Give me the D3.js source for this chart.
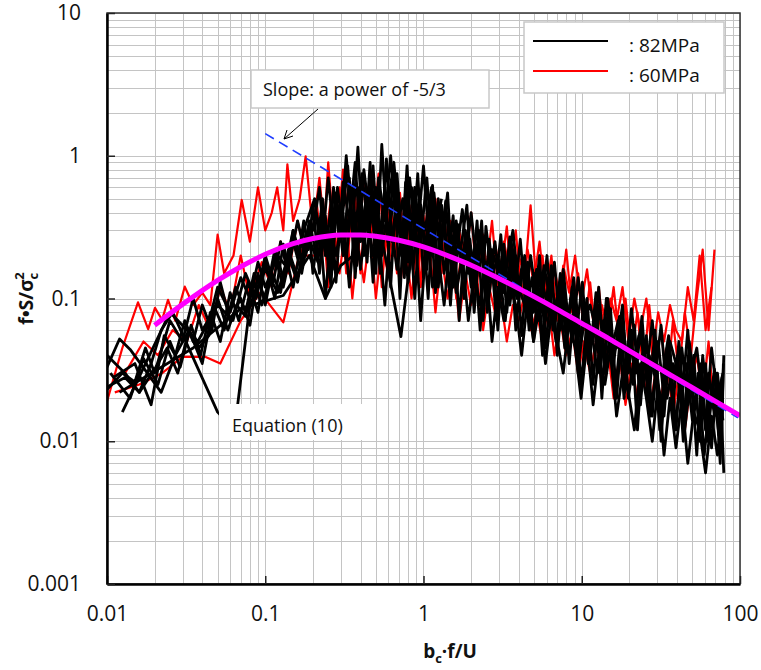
<!DOCTYPE html>
<html lang="en">
<head>
<meta charset="UTF-8">
<title>Normalized spectrum</title>
<script src="https://d3js.org/d3.v7.min.js"></script>
<style>
  body { margin: 0; background: #fff; }
  text { font-family: "Open Sans", sans-serif; fill: #111; }
  .grid line { stroke: #c4c4c4; stroke-width: 1; shape-rendering: crispEdges; }
  .axis text { font-size: 21px; }
  .axis line { stroke: #222; stroke-width: 1.5; }
</style>
</head>
<body>
<script>
// tick labels
const xMajor = [0.01, 0.1, 1, 10, 100];
const xTickLabels = ["0.01", "0.1", "1", "10", "100"];
const yMajor = [0.001, 0.01, 0.1, 1, 10];
const yTickLabels = ["0.001", "0.01", "0.1", "1", "10"];

// shared frequency grids (b·f/U) for the high frequency part of the spectra
const freqGridA = [0.20, 0.22, 0.24, 0.26, 0.28, 0.31, 0.34, 0.37, 0.40, 0.44,
  0.48, 0.52, 0.57, 0.62, 0.68, 0.74, 0.80, 0.88, 0.96, 1.05,
  1.14, 1.24, 1.35, 1.48, 1.61, 1.76, 1.92, 2.09, 2.28, 2.48,
  2.71, 2.95, 3.22, 3.51, 3.83, 4.17, 4.55, 4.96, 5.41, 5.90,
  6.43, 7.01, 7.64, 8.33, 9.08, 9.90, 10.8, 11.8, 12.8, 14.0,
  15.2, 16.6, 18.1, 19.7, 21.5, 23.5, 25.6, 27.9, 30.4, 33.1,
  36.1, 39.4, 42.9, 46.8, 51.0, 55.6, 60.6, 66.1, 72.0, 78.0];
const freqGridB = [0.21, 0.23, 0.25, 0.27, 0.295, 0.325, 0.355, 0.385, 0.42, 0.46,
  0.50, 0.545, 0.595, 0.65, 0.71, 0.77, 0.84, 0.92, 1.00, 1.10,
  1.19, 1.30, 1.42, 1.54, 1.68, 1.84, 2.00, 2.18, 2.38, 2.60,
  2.83, 3.08, 3.36, 3.67, 4.00, 4.36, 4.75, 5.18, 5.65, 6.16,
  6.72, 7.32, 7.98, 8.70, 9.49, 10.3, 11.3, 12.3, 13.4, 14.6,
  15.9, 17.3, 18.9, 20.6, 22.5, 24.5, 26.7, 29.1, 31.7, 34.6,
  37.7, 41.1, 44.8, 48.9, 53.3, 58.1, 63.3, 69.0, 75.0, 79.0];
const freqGridC = [0.205, 0.225, 0.245, 0.266, 0.286, 0.317, 0.348, 0.378, 0.409, 0.45,
  0.49, 0.532, 0.583, 0.634, 0.695, 0.757, 0.818, 0.9, 0.98, 1.07,
  1.165, 1.27, 1.38, 1.51, 1.645, 1.8, 1.96, 2.14, 2.33, 2.53,
  2.77, 3.02, 3.29, 3.59, 3.91, 4.26, 4.65, 5.07, 5.53, 6.03,
  6.57, 7.16, 7.81, 8.51, 9.28, 10.1, 11.0, 12.1, 13.1, 14.3,
  15.5, 17.0, 18.5, 20.1, 22.0, 24.0, 26.2, 28.5, 31.1, 33.8,
  36.9, 40.3, 43.8, 47.8, 52.1, 56.8, 61.9, 67.6, 73.6, 77.0];
const freqGridD = [0.215, 0.235, 0.256, 0.276, 0.301, 0.332, 0.363, 0.393, 0.429, 0.47,
  0.511, 0.557, 0.608, 0.664, 0.726, 0.787, 0.858, 0.94, 1.022, 1.124,
  1.216, 1.33, 1.45, 1.574, 1.717, 1.88, 2.044, 2.23, 2.43, 2.66,
  2.89, 3.15, 3.43, 3.75, 4.09, 4.46, 4.85, 5.29, 5.77, 6.3,
  6.87, 7.48, 8.16, 8.89, 9.7, 10.5, 11.5, 12.6, 13.7, 14.9,
  16.2, 17.7, 19.3, 21.1, 23.0, 25.0, 27.3, 29.7, 32.4, 35.4,
  38.5, 42.0, 45.8, 50.0, 54.5, 59.4, 64.7, 70.5, 76.6, 78.5];

// 82MPa runs: low frequency part (own frequencies) + high part (on a grid)
const black1LowF = [0.0125, 0.025, 0.0375, 0.05, 0.0625, 0.075, 0.0875, 0.1, 0.1125, 0.125, 0.1375, 0.15, 0.1625, 0.175, 0.1875];
const black1LowS = [0.016, 0.08, 0.05, 0.09, 0.07, 0.15, 0.1, 0.2, 0.13, 0.25, 0.16, 0.3, 0.2, 0.35, 0.22];
const black1Hi = [0.45, 0.15, 0.38, 0.12, 0.55, 0.2, 0.7, 0.14, 0.5,
  0.18, 0.85, 0.22, 0.6, 0.12, 0.75, 0.2, 0.55, 0.1, 0.45, 0.16, 0.62,
  0.12, 0.4, 0.09, 0.35, 0.15, 0.3, 0.08, 0.28, 0.1, 0.22,
  0.06, 0.24, 0.09, 0.2, 0.055, 0.18, 0.05, 0.15, 0.07, 0.17,
  0.04, 0.13, 0.035, 0.11, 0.05, 0.1, 0.025, 0.09, 0.04, 0.085,
  0.02, 0.07, 0.03, 0.065, 0.018, 0.055, 0.015, 0.05, 0.02, 0.045,
  0.012, 0.045, 0.018, 0.04, 0.01, 0.035, 0.009, 0.03, 0.014];

const black2LowF = [0.010, 0.012, 0.014, 0.018, 0.022, 0.027, 0.033, 0.04, 0.047, 0.055, 0.065, 0.075, 0.085, 0.1, 0.115, 0.13, 0.15, 0.17, 0.19];
const black2LowS = [0.033, 0.052, 0.044, 0.03, 0.022, 0.04, 0.06, 0.035, 0.09, 0.06, 0.12, 0.08, 0.15, 0.1, 0.22, 0.14, 0.3, 0.18, 0.35];
const black2Hi = [0.2, 0.5, 0.17, 0.6, 0.25, 1.0, 0.3, 1.15, 0.2,
  0.9, 0.15, 1.2, 0.25, 0.8, 0.1, 0.65, 0.2, 0.75, 0.14, 0.5, 0.11,
  0.45, 0.18, 0.38, 0.07, 0.3, 0.12, 0.35, 0.07, 0.26, 0.11,
  0.28, 0.08, 0.22, 0.1, 0.2, 0.07, 0.16, 0.04, 0.14, 0.06,
  0.15, 0.05, 0.12, 0.03, 0.1, 0.04, 0.11, 0.02, 0.08, 0.035,
  0.075, 0.025, 0.06, 0.012, 0.05, 0.022, 0.06, 0.01, 0.045, 0.018,
  0.05, 0.015, 0.035, 0.008, 0.04, 0.016, 0.032, 0.007, 0.04];

const black3LowF = [0.010, 0.013, 0.016, 0.019, 0.022, 0.026, 0.05, 0.064, 0.08, 0.1, 0.12, 0.14, 0.16, 0.18];
const black3LowS = [0.024, 0.028, 0.022, 0.035, 0.06, 0.08, 0.016, 0.012, 0.09, 0.16, 0.11, 0.2, 0.13, 0.28];
const black3Hi = [0.3, 0.6, 0.2, 0.45, 0.13, 0.65, 0.35, 0.9, 0.25,
  0.55, 0.13, 0.7, 0.35, 1.0, 0.3, 0.5, 0.18, 0.6, 0.25, 0.7, 0.2,
  0.5, 0.15, 0.3, 0.2, 0.42, 0.15, 0.22, 0.06, 0.32, 0.14,
  0.2, 0.11, 0.27, 0.06, 0.16, 0.12, 0.08, 0.2, 0.045, 0.12,
  0.08, 0.16, 0.06, 0.09, 0.025, 0.07, 0.05, 0.12, 0.03, 0.06,
  0.045, 0.09, 0.02, 0.04, 0.06, 0.03, 0.07, 0.025, 0.015, 0.05,
  0.035, 0.02, 0.06, 0.015, 0.03, 0.012, 0.045, 0.02, 0.03];

const black4LowF = [0.010, 0.0125, 0.015, 0.0175, 0.02, 0.025, 0.03, 0.035, 0.04, 0.045, 0.05, 0.06, 0.07, 0.08, 0.09, 0.1, 0.12, 0.14, 0.16, 0.18];
const black4LowS = [0.023, 0.03, 0.026, 0.045, 0.03, 0.07, 0.05, 0.1, 0.06, 0.075, 0.12, 0.08, 0.14, 0.1, 0.18, 0.12, 0.2, 0.16, 0.35, 0.2];
const black4Hi = [0.4, 0.25, 0.7, 0.3, 0.45, 0.18, 0.6, 0.22, 0.8,
  0.35, 0.6, 0.2, 0.45, 0.9, 0.28, 0.4, 0.6, 0.3, 0.85, 0.2, 0.4,
  0.25, 0.55, 0.12, 0.25, 0.18, 0.4, 0.16, 0.2, 0.13, 0.25,
  0.1, 0.17, 0.3, 0.12, 0.09, 0.2, 0.1, 0.13, 0.08, 0.18,
  0.06, 0.09, 0.05, 0.14, 0.07, 0.09, 0.06, 0.05, 0.1, 0.04,
  0.06, 0.03, 0.085, 0.035, 0.025, 0.04, 0.028, 0.065, 0.02, 0.035,
  0.025, 0.012, 0.03, 0.045, 0.02, 0.03, 0.015, 0.025, 0.006];

const black5LowF = [0.011, 0.015, 0.019, 0.023, 0.027, 0.031, 0.035, 0.04, 0.046, 0.052, 0.06, 0.07, 0.08, 0.09, 0.1, 0.115, 0.13, 0.15, 0.17, 0.19];
const black5LowS = [0.028, 0.035, 0.018, 0.055, 0.04, 0.07, 0.05, 0.09, 0.06, 0.13, 0.07, 0.1, 0.065, 0.15, 0.09, 0.2, 0.12, 0.25, 0.15, 0.3];
const black5Hi = [0.15, 0.35, 0.1, 0.3, 0.2, 0.4, 0.12, 0.35, 0.16,
  0.4, 0.2, 0.3, 0.09, 0.35, 0.16, 0.3, 0.13, 0.35, 0.07, 0.3, 0.12,
  0.2, 0.09, 0.25, 0.11, 0.2, 0.07, 0.15, 0.09, 0.18, 0.05,
  0.12, 0.07, 0.13, 0.09, 0.04, 0.1, 0.05, 0.09, 0.035, 0.08,
  0.05, 0.03, 0.07, 0.045, 0.02, 0.05, 0.018, 0.04, 0.025, 0.045,
  0.015, 0.03, 0.022, 0.012, 0.035, 0.02, 0.01, 0.025, 0.008, 0.02,
  0.009, 0.02, 0.007, 0.016, 0.012, 0.006, 0.015, 0.008, 0.018];

// sparse short 82MPa run
const black6F = [0.012, 0.035, 0.07, 0.13, 0.19, 0.24, 0.3, 0.36, 0.45, 0.55, 0.72, 0.9, 1.1, 1.3];
const black6S = [0.022, 0.045, 0.085, 0.105, 0.2, 0.1, 0.17, 0.2, 0.45, 0.25, 0.054, 0.4, 0.2, 0.5];

const black7LowF = [0.0105, 0.014, 0.017, 0.021, 0.025, 0.029, 0.034, 0.039, 0.045, 0.052, 0.06, 0.068, 0.078, 0.09, 0.1, 0.115, 0.13, 0.15, 0.175];
const black7LowS = [0.03, 0.02, 0.038, 0.025, 0.05, 0.033, 0.065, 0.04, 0.08, 0.05, 0.11, 0.07, 0.13, 0.08, 0.18, 0.1, 0.24, 0.12, 0.3];
const black7Hi = [0.5, 0.2, 0.32, 0.16, 0.6, 0.25, 0.45, 0.17, 0.75,
  0.28, 0.5, 0.15, 0.95, 0.25, 0.55, 0.14, 0.7, 0.22, 0.4, 0.1, 0.55,
  0.2, 0.48, 0.14, 0.33, 0.1, 0.26, 0.12, 0.35, 0.08, 0.2,
  0.15, 0.07, 0.25, 0.1, 0.19, 0.06, 0.15, 0.08, 0.2, 0.06,
  0.12, 0.045, 0.1, 0.06, 0.13, 0.035, 0.08, 0.03, 0.1, 0.045,
  0.07, 0.02, 0.05, 0.03, 0.075, 0.02, 0.045, 0.012, 0.04, 0.025,
  0.04, 0.01, 0.05, 0.022, 0.035, 0.01, 0.025, 0.011, 0.028];

const black8LowF = [0.01, 0.013, 0.016, 0.02, 0.024, 0.028, 0.033, 0.038, 0.044, 0.05, 0.058, 0.066, 0.075, 0.085, 0.095, 0.11, 0.125, 0.14, 0.16, 0.185];
const black8LowS = [0.04, 0.03, 0.022, 0.032, 0.045, 0.03, 0.06, 0.045, 0.055, 0.1, 0.06, 0.09, 0.075, 0.13, 0.09, 0.15, 0.11, 0.22, 0.14, 0.28];
const black8Hi = [0.18, 0.42, 0.14, 0.5, 0.3, 0.85, 0.2, 0.6, 0.3,
  0.7, 0.2, 0.4, 0.3, 0.6, 0.2, 0.85, 0.16, 0.5, 0.3, 0.6, 0.15,
  0.35, 0.12, 0.28, 0.22, 0.45, 0.1, 0.3, 0.14, 0.22, 0.07,
  0.22, 0.12, 0.1, 0.26, 0.08, 0.14, 0.07, 0.17, 0.1, 0.05,
  0.1, 0.07, 0.14, 0.04, 0.08, 0.06, 0.03, 0.07, 0.05, 0.02,
  0.06, 0.04, 0.025, 0.055, 0.04, 0.015, 0.035, 0.03, 0.055, 0.012,
  0.025, 0.035, 0.014, 0.03, 0.008, 0.02, 0.03, 0.01, 0.035];

// 60MPa runs
const red1LowF = [0.01, 0.0125, 0.0157, 0.0182, 0.0201, 0.0223, 0.0243, 0.027, 0.031, 0.035, 0.04, 0.045, 0.05, 0.055, 0.063, 0.071, 0.08, 0.09, 0.1, 0.11, 0.119, 0.13, 0.138, 0.15, 0.165, 0.18, 0.195];
const red1LowS = [0.019, 0.045, 0.094, 0.061, 0.086, 0.071, 0.098, 0.07, 0.121, 0.09, 0.11, 0.09, 0.28, 0.15, 0.2, 0.49, 0.25, 0.6, 0.3, 0.4, 0.6, 0.3, 0.87, 0.35, 0.5, 0.99, 0.4];
const red1Hi = [0.5, 0.2, 0.9, 0.3, 0.6, 0.15, 0.45, 0.2, 0.7,
  0.25, 0.5, 0.12, 0.4, 0.2, 0.55, 0.17, 0.45, 0.14, 0.38, 0.2, 0.5,
  0.15, 0.32, 0.12, 0.3, 0.18, 0.4, 0.13, 0.28, 0.1, 0.24,
  0.15, 0.32, 0.1, 0.2, 0.14, 0.45, 0.12, 0.2, 0.08, 0.16,
  0.1, 0.22, 0.08, 0.15, 0.06, 0.13, 0.05, 0.09, 0.06, 0.12,
  0.05, 0.1, 0.04, 0.08, 0.03, 0.09, 0.035, 0.06, 0.025, 0.07,
  0.03, 0.08, 0.04, 0.1, 0.22, 0.06, 0.22];

const red2LowF = [0.0112, 0.016, 0.0223, 0.03, 0.042, 0.052, 0.07, 0.093, 0.13, 0.16, 0.19];
const red2LowS = [0.022, 0.025, 0.03, 0.039, 0.039, 0.035, 0.07, 0.11, 0.068, 0.18, 0.3];
const red2Hi = [0.3, 0.7, 0.25, 0.5, 0.2, 0.8, 0.3, 0.55, 0.15,
  0.6, 0.3, 0.75, 0.2, 0.5, 0.15, 0.35, 0.18, 0.55, 0.12, 0.4, 0.25,
  0.45, 0.2, 0.35, 0.1, 0.25, 0.22, 0.1, 0.3, 0.15, 0.35,
  0.12, 0.25, 0.16, 0.3, 0.1, 0.22, 0.13, 0.25, 0.1, 0.2,
  0.07, 0.17, 0.11, 0.2, 0.09, 0.16, 0.07, 0.12, 0.05, 0.1,
  0.07, 0.12, 0.05, 0.1, 0.06, 0.1, 0.04, 0.08, 0.05, 0.09,
  0.06, 0.05, 0.12, 0.07, 0.2, 0.06, 0.12];

const red3LowF = [0.013, 0.017, 0.021, 0.026, 0.032, 0.038, 0.045, 0.052, 0.06, 0.07, 0.08, 0.095, 0.11, 0.125, 0.14, 0.16, 0.18];
const red3LowS = [0.03, 0.05, 0.04, 0.06, 0.05, 0.09, 0.06, 0.12, 0.08, 0.2, 0.1, 0.18, 0.12, 0.25, 0.15, 0.35, 0.2];
const red3Hi = [0.2, 0.4, 0.12, 0.3, 0.15, 0.35, 0.1, 0.25, 0.13,
  0.3, 0.1, 0.25, 0.15, 0.35, 0.12, 0.25, 0.1, 0.3, 0.15, 0.22, 0.08,
  0.2, 0.1, 0.18, 0.07, 0.15, 0.09, 0.14, 0.06, 0.12, 0.08,
  0.1, 0.05, 0.09, 0.07, 0.11, 0.06, 0.08, 0.05, 0.09, 0.04,
  0.07, 0.04, 0.06, 0.03, 0.05, 0.03, 0.05, 0.025, 0.045, 0.02,
  0.04, 0.018, 0.035, 0.02, 0.03, 0.015, 0.03, 0.02, 0.04, 0.015,
  0.03, 0.012, 0.025, 0.04, 0.02, 0.05, 0.015];

// Equation (10) curve
const eqF = [0.02, 0.03, 0.05, 0.07, 0.1, 0.15, 0.2, 0.3, 0.4, 0.5, 0.7, 1, 1.5, 2, 3, 5, 7, 10, 15, 20, 30, 50, 70, 100];
const eqS = [0.065, 0.091, 0.134, 0.167, 0.204, 0.242, 0.263, 0.279, 0.279, 0.273, 0.256, 0.230, 0.195, 0.171, 0.138, 0.103, 0.084, 0.067, 0.052, 0.043, 0.033, 0.0237, 0.019, 0.0151];

// -5/3 slope reference line
const slopeF = [0.1, 97];
const slopeS = [1.43, 0.0146];

// Setting dimensions and margins
const width = 761;
const height = 670;
const margin = { top: 13, right: 21, bottom: 86, left: 107 };

const x = d3.scaleLog()
  .domain([0.01, 100])
  .range([margin.left, width - margin.right]);

const y = d3.scaleLog()
  .domain([0.001, 10])
  .range([height - margin.bottom, margin.top]);

const svg = d3.select("body").append("svg")
  .attr("width", width)
  .attr("height", height);

svg.append("defs").append("clipPath").attr("id", "plot-clip")
  .append("rect")
  .attr("x", margin.left).attr("y", margin.top)
  .attr("width", width - margin.left - margin.right)
  .attr("height", height - margin.top - margin.bottom);

// Gridlines (1..9 per decade)
const grid = svg.append("g").attr("class", "grid");
grid.selectAll(".gx")
  .data(x.ticks())
  .enter().append("line")
  .attr("x1", d => Math.round(x(d)) + 0.5).attr("x2", d => Math.round(x(d)) + 0.5)
  .attr("y1", y.range()[0]).attr("y2", y.range()[1]);
grid.selectAll(".gy")
  .data(y.ticks())
  .enter().append("line")
  .attr("y1", d => Math.round(y(d)) + 0.5).attr("y2", d => Math.round(y(d)) + 0.5)
  .attr("x1", x.range()[0]).attr("x2", x.range()[1]);

// Build runs from the arrays
function run(lowF, lowS, hiF, hiS) {
  const pts = lowF.map((f, i) => ({ f: f, s: lowS[i] }));
  hiS.forEach((s, i) => pts.push({ f: hiF[i], s: s }));
  return pts;
}

const redRuns = [
  run(red1LowF, red1LowS, freqGridB, red1Hi),
  run(red2LowF, red2LowS, freqGridA, red2Hi),
  run(red3LowF, red3LowS, freqGridB, red3Hi)
];
const blackRuns = [
  run(black1LowF, black1LowS, freqGridA, black1Hi),
  run(black2LowF, black2LowS, freqGridB, black2Hi),
  run(black3LowF, black3LowS, freqGridA, black3Hi),
  run(black4LowF, black4LowS, freqGridB, black4Hi),
  run(black5LowF, black5LowS, freqGridA, black5Hi),
  run(black6F, black6S, [], []),
  run(black7LowF, black7LowS, freqGridC, black7Hi),
  run(black8LowF, black8LowS, freqGridD, black8Hi)
];

const line = d3.line()
  .x(d => x(d.f))
  .y(d => y(d.s));

const plot = svg.append("g").attr("clip-path", "url(#plot-clip)");

plot.selectAll(".red-run")
  .data(redRuns)
  .enter().append("path")
  .attr("fill", "none")
  .attr("stroke", "#ff0000")
  .attr("stroke-width", 2.2)
  .attr("stroke-linejoin", "round")
  .attr("d", line);

plot.selectAll(".black-run")
  .data(blackRuns)
  .enter().append("path")
  .attr("fill", "none")
  .attr("stroke", "#000")
  .attr("stroke-width", 2.8)
  .attr("stroke-linejoin", "round")
  .attr("d", line);

// slope line
plot.append("path")
  .datum(slopeF.map((f, i) => ({ f: f, s: slopeS[i] })))
  .attr("fill", "none")
  .attr("stroke", "#1f3dff")
  .attr("stroke-width", 1.6)
  .attr("stroke-dasharray", "10,6")
  .attr("d", line);

// Equation (10)
plot.append("path")
  .datum(eqF.map((f, i) => ({ f: f, s: eqS[i] })))
  .attr("fill", "none")
  .attr("stroke", "#ff00ff")
  .attr("stroke-width", 5)
  .attr("d", line.curve(d3.curveMonotoneX));

// Frame
svg.append("rect")
  .attr("x", margin.left).attr("y", margin.top)
  .attr("width", width - margin.left - margin.right)
  .attr("height", height - margin.top - margin.bottom)
  .attr("fill", "none")
  .attr("stroke", "#333")
  .attr("stroke-width", 1.5);

// Axes
svg.append("g")
  .attr("class", "axis")
  .attr("transform", `translate(0,${height - margin.bottom})`)
  .call(d3.axisBottom(x).tickValues(xMajor)
    .tickFormat((d, i) => xTickLabels[i])
    .tickSizeInner(-8).tickSizeOuter(0).tickPadding(22))
  .call(g => g.select(".domain").attr("stroke", "#000").attr("stroke-width", 2.5));

svg.append("g")
  .attr("class", "axis")
  .attr("transform", `translate(${margin.left},0)`)
  .call(d3.axisLeft(y).tickValues(yMajor)
    .tickFormat((d, i) => yTickLabels[i])
    .tickSizeInner(-8).tickSizeOuter(0).tickPadding(26))
  .call(g => g.select(".domain").attr("stroke", "#000").attr("stroke-width", 2.5));

// Annotation: slope
svg.append("rect")
  .attr("x", 251).attr("y", 70).attr("width", 238).attr("height", 38)
  .attr("fill", "#fff").attr("stroke", "#c8c8c8").attr("stroke-width", 1.5);
svg.append("text")
  .attr("x", 263).attr("y", 96)
  .style("font-size", "18px")
  .text("Slope: a power of -5/3");
svg.append("line")
  .attr("x1", 318).attr("y1", 109).attr("x2", 284).attr("y2", 139)
  .attr("stroke", "#000").attr("stroke-width", 1);
svg.append("path")
  .attr("d", "M284,139 l3,-9 M284,139 l9,-3")
  .attr("fill", "none").attr("stroke", "#000").attr("stroke-width", 1);

// Annotation: Equation (10)
svg.append("rect")
  .attr("x", 219).attr("y", 404).attr("width", 148).attr("height", 36)
  .attr("fill", "#fff");
svg.append("text")
  .attr("x", 232).attr("y", 432)
  .style("font-size", "18px")
  .text("Equation (10)");

// Legend
const legendItems = [": 82MPa", ": 60MPa"];
const legendColors = ["#000", "#ff0000"];
svg.append("rect")
  .attr("x", 524).attr("y", 22).attr("width", 200).attr("height", 71)
  .attr("fill", "#fff").attr("stroke", "#c8c8c8").attr("stroke-width", 1.5);
const legend = svg.selectAll(".legend")
  .data(legendItems)
  .enter().append("g")
  .attr("class", "legend")
  .attr("transform", (d, i) => `translate(533,${41 + i * 30})`);
legend.append("line")
  .attr("x1", 0).attr("x2", 75)
  .attr("stroke", (d, i) => legendColors[i])
  .attr("stroke-width", 2);
legend.append("text")
  .attr("x", 96).attr("y", 11)
  .style("font-size", "19px")
  .text(d => d);

// Axis titles
const xTitle = svg.append("text")
  .attr("x", 450).attr("y", 658)
  .attr("text-anchor", "middle")
  .style("font-size", "19px").style("font-weight", "bold");
xTitle.append("tspan").text("b");
xTitle.append("tspan").attr("dy", 5).style("font-size", "13px").text("c");
xTitle.append("tspan").attr("dy", -5).text("·f/U");

const yTitle = svg.append("text")
  .attr("transform", `translate(33,${(margin.top + height - margin.bottom) / 2}) rotate(-90)`)
  .attr("text-anchor", "middle")
  .style("font-size", "19px").style("font-weight", "bold");
yTitle.append("tspan").text("f•S/σ");
yTitle.append("tspan").attr("dy", 5).style("font-size", "13px").text("c");
yTitle.append("tspan").attr("dx", -7).attr("dy", -14).style("font-size", "13px").text("2");
</script>
</body>
</html>
